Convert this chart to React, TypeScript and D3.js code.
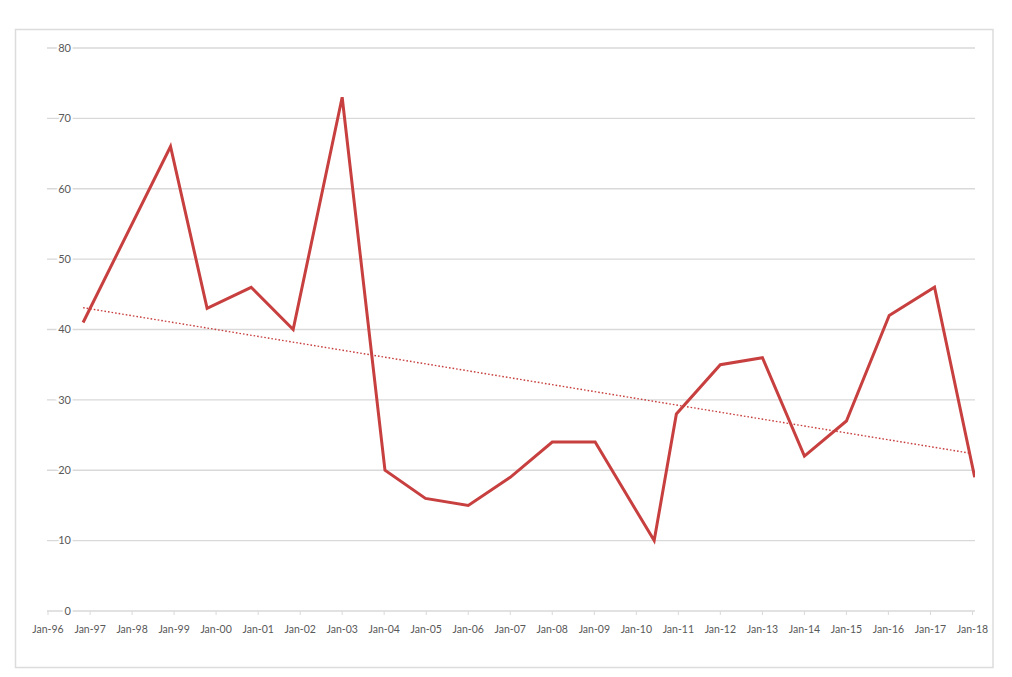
import React from "react";
import * as d3 from "d3";

const dates = [
  "1996-11-01", "1998-12-01", "1999-10-15", "2000-11-01", "2001-11-01", "2003-01-01",
  "2004-01-08", "2004-12-25", "2006-01-01", "2007-01-01", "2008-01-01", "2009-01-08",
  "2010-06-05", "2010-12-15", "2012-01-01", "2013-01-01", "2014-01-01", "2015-01-01",
  "2016-01-08", "2017-02-05", "2018-01-20",
];
const values = [41, 66, 43, 46, 40, 73, 20, 16, 15, 19, 24, 24, 10, 28, 35, 36, 22, 27, 42, 46, 19];
const trendDates = ["1996-11-01", "2017-12-20"];
const trendValues = [43.1, 22.4];
const yTicks = [0, 10, 20, 30, 40, 50, 60, 70, 80];
const xTickYears = d3.range(1996, 2019);

const RED = "#c7403f";
const GRID = "#d9d9d9";
const TEXT = "#595959";
const FONT = "Lato, 'Open Sans', sans-serif";

export default function App() {
  const parse = d3.timeParse("%Y-%m-%d");
  const data = dates.map((d, i) => ({ date: parse(d) as Date, value: values[i] }));
  const trend = trendDates.map((d, i) => ({ date: parse(d) as Date, value: trendValues[i] }));

  const x = d3.scaleTime()
    .domain([new Date(1996, 0, 1), new Date(2018, 0, 1)])
    .range([48, 972.5]);
  const y = d3.scaleLinear().domain([0, 80]).range([611, 48]);

  const line = d3.line<{ date: Date; value: number }>()
    .x((d) => x(d.date))
    .y((d) => y(d.value));

  const fmt = d3.timeFormat("%b-%y");
  const tickDates = xTickYears.map((yr) => new Date(yr, 0, 1));

  return (
    <svg width={1012} height={677} style={{ position: "absolute", left: 0, top: 0, background: "#fff" }}>
      <rect x={15.5} y={29.5} width={977.5} height={638} fill="#fff" stroke="#dcdcdc" strokeWidth={1.5} />
      <defs>
        <clipPath id="plot">
          <rect x={47} y={40} width={928} height={580} />
        </clipPath>
      </defs>
      {yTicks.map((t) => (
        <line key={"g" + t} x1={47} x2={975} y1={y(t)} y2={y(t)} stroke={GRID} strokeWidth={1.3} />
      ))}
      {tickDates.map((d, i) => (
        <line key={"xt" + i} x1={x(d)} x2={x(d)} y1={611} y2={615} stroke={GRID} strokeWidth={1} />
      ))}
      {yTicks.map((t) => (
        <text
          key={"yl" + t}
          x={71}
          y={y(t)}
          dy="0.35em"
          textAnchor="end"
          fontFamily={FONT}
          fontSize={11}
          fill={TEXT}
          stroke="#fff"
          strokeWidth={4}
          style={{ paintOrder: "stroke" }}
        >
          {t}
        </text>
      ))}
      {tickDates.map((d, i) => (
        <text
          key={"xl" + i}
          x={x(d)}
          y={629}
          dy="0.35em"
          textAnchor="middle"
          fontFamily={FONT}
          fontSize={10.5}
          fill={TEXT}
        >
          {fmt(d)}
        </text>
      ))}
      <g clipPath="url(#plot)">
        <path d={line(trend) || ""} fill="none" stroke={RED} strokeWidth={1.4} strokeDasharray="1.6,2" />
        <path d={line(data) || ""} fill="none" stroke={RED} strokeWidth={3} strokeLinejoin="miter" />
      </g>
    </svg>
  );
}
